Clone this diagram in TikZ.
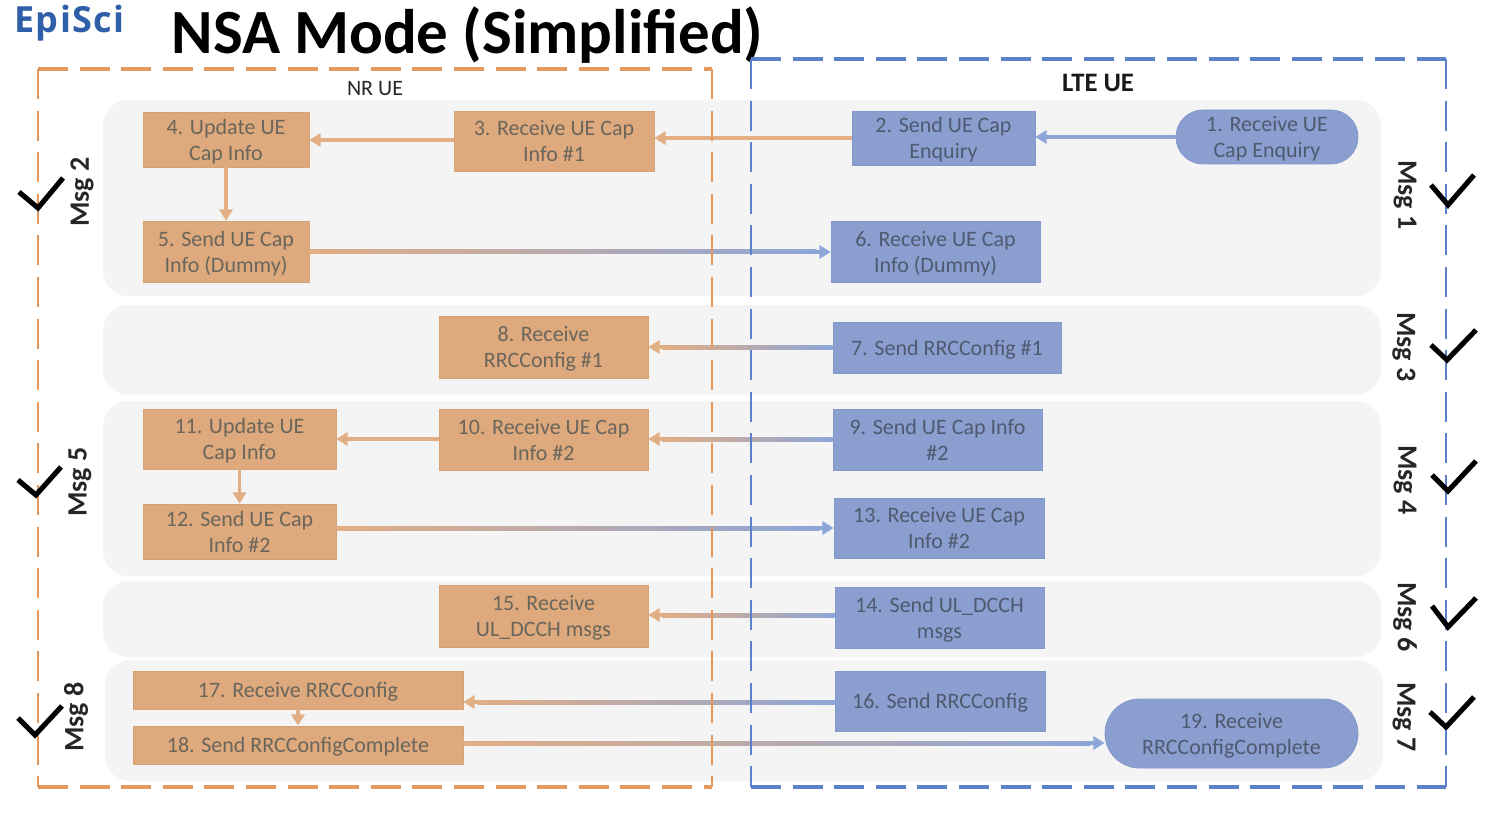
\documentclass[tikz,border=0pt]{standalone}
\usepackage{fontspec}
\setmainfont{Carlito}
\newfontfamily\logofont[LetterSpace=4]{Open Sans}
\usetikzlibrary{arrows.meta,calc,shapes.misc}
\definecolor{panelgray}{HTML}{F4F4F4}
\definecolor{boxorange}{HTML}{DEA97C}
\definecolor{edgeorange}{HTML}{D6A274}
\definecolor{boxblue}{HTML}{8A9FCF}
\definecolor{edgeblue}{HTML}{8299CB}
\definecolor{dashorange}{HTML}{E6995C}
\definecolor{dashblue}{HTML}{5B80CC}
\definecolor{arroworange}{HTML}{E2AE84}
\definecolor{arrowblue}{HTML}{8DA6D8}
\definecolor{inkorange}{HTML}{6A665C}
\definecolor{inkblue}{HTML}{4F5A70}
\definecolor{logoblue}{HTML}{2F5FA8}
\tikzset{
  panel/.style={fill=panelgray,draw=none,rounded corners=19pt},
  basebox/.style={draw,line width=0.6pt,inner sep=0pt,align=center,font=\fontsize{16.5}{19.5}\selectfont},
  obox/.style={basebox,fill=boxorange,draw=edgeorange,text=inkorange},
  bbox/.style={basebox,fill=boxblue,draw=edgeblue,text=inkblue},
  pill/.style={bbox,rounded rectangle},
  link/.style={line width=2.3pt,-{Triangle[length=8.5pt,width=10pt]}},
  msg/.style={font=\fontsize{21}{24}\selectfont\bfseries,inner sep=0pt,text=black!85},
  chk/.style={line width=3.8pt,black,line join=miter},
  ohside/.style={dashorange,line width=2.9pt,dash pattern=on 22.5pt off 8.7pt},
  ovside/.style={dashorange,line width=2.2pt,dash pattern=on 22.5pt off 8.7pt},
  bhside/.style={dashblue,line width=2.9pt,dash pattern=on 22.5pt off 8.7pt},
  bvside/.style={dashblue,line width=2.2pt,dash pattern=on 22.5pt off 8.7pt},
}
% name x1 y1 x2 y2 style text
\newcommand{\pbox}[7]{\node[#6,minimum width={(#4-#2)*0.75pt},minimum height={(#5-#3)*0.75pt}] (#1) at ({(#2+#4)/2},{(#3+#5)/2}) {\raisebox{-2pt}[\height][\depth]{\begin{tabular}{@{}c@{}}#7\end{tabular}}};}
\newcommand{\gradR}[3]{% left-to-right, from orange to blue
  \draw[link,arrowblue] (#1.east |- 0,#3) -- (#2.west |- 0,#3);
  \shade[left color=arroworange,right color=arrowblue] ($(#1.east |- 0,#3)+(0,-2)$) rectangle ($(#2.west |- 0,#3)+(-14,2)$);
}
\newcommand{\gradL}[3]{% right-to-left, from blue to orange
  \draw[link,arroworange] (#1.west |- 0,#3) -- (#2.east |- 0,#3);
  \shade[left color=arroworange,right color=arrowblue] ($(#2.east |- 0,#3)+(14,-2)$) rectangle ($(#1.west |- 0,#3)+(0,2)$);
}
\begin{document}
\renewcommand{\arraystretch}{1}
\setlength{\tabcolsep}{0pt}
\begin{tikzpicture}[x=0.75pt,y=-0.75pt]
\useasboundingbox (0,0) rectangle (1490,820);
\fill[white] (0,0) rectangle (1490,820);
% panels
\fill[panel] (103,100) rectangle (1381,296);
\fill[panel] (103,305) rectangle (1381,395);
\fill[panel] (103,401) rectangle (1381,576);
\fill[panel] (103,581) rectangle (1381,657);
\fill[panel] (105,660) rectangle (1383,781);
% titles
\node[inner sep=0pt,anchor=base west,font=\logofont\bfseries\fontsize{27}{30}\selectfont,text=logoblue] (logo) at (14,33) {EpiSci};
\node[inner sep=0pt,font=\fontsize{47.2}{50}\selectfont\bfseries,text=black] (title) at (467.5,35) {NSA Mode (Simplified)};
\node[inner sep=0pt,font=\fontsize{16.5}{18}\selectfont,text=black!85] (nrue) at (375,89) {NR UE};
\node[inner sep=0pt,font=\fontsize{20}{22}\selectfont\bfseries,text=black!90] (lteue) at (1098,83) {LTE UE};
% boxes
\pbox{n1}{1176}{110}{1358}{164}{pill}{1. Receive UE\\Cap Enquiry}
\pbox{n2}{852}{111}{1035}{165}{bbox}{2. Send UE Cap\\Enquiry}
\pbox{n3}{454}{111}{654}{171}{obox}{3. Receive UE Cap\\Info \#1}
\pbox{n4}{143}{112}{309}{167}{obox}{4. Update UE\\Cap Info}
\pbox{n5}{143}{221}{309}{282}{obox}{5. Send UE Cap\\Info (Dummy)}
\pbox{n6}{831}{221}{1040}{282}{bbox}{6. Receive UE Cap\\Info (Dummy)}
\pbox{n7}{833}{322}{1061}{373}{bbox}{7. Send RRCConfig \#1}
\pbox{n8}{439}{316}{648}{378}{obox}{8. Receive\\RRCConfig \#1}
\pbox{n9}{833}{409}{1042}{470}{bbox}{9. Send UE Cap Info\\\#2}
\pbox{n10}{439}{409}{648}{470}{obox}{10. Receive UE Cap\\Info \#2}
\pbox{n11}{143}{409}{336}{469}{obox}{11. Update UE\\Cap Info}
\pbox{n12}{143}{504}{336}{559}{obox}{12. Send UE Cap\\Info \#2}
\pbox{n13}{834}{498}{1044}{558}{bbox}{13. Receive UE Cap\\Info \#2}
\pbox{n14}{835}{587}{1044}{648}{bbox}{14. Send UL\_DCCH\\msgs}
\pbox{n15}{439}{585}{648}{647}{obox}{15. Receive\\UL\_DCCH msgs}
\pbox{n16}{835}{671}{1045}{731}{bbox}{16. Send RRCConfig}
\pbox{n17}{133}{671}{463}{709}{obox}{17. Receive RRCConfig}
\pbox{n18}{133}{726}{463}{764}{obox}{18. Send RRCConfigComplete}
\pbox{n19}{1105}{699}{1358}{768}{pill}{19. Receive\\RRCConfigComplete}
% connectors
\draw[link,arrowblue] (n1.west |- 0,137) -- (n2.east |- 0,137);
\draw[link,arroworange] (n2.west |- 0,138) -- (n3.east |- 0,138);
\draw[link,arroworange] (n3.west |- 0,140) -- (n4.east |- 0,140);
\draw[link,arroworange] (n4.south) -- (n5.north);
\gradR{n5}{n6}{252}
\gradL{n7}{n8}{347}
\gradL{n9}{n10}{439}
\draw[link,arroworange] (n10.west |- 0,439) -- (n11.east |- 0,439);
\draw[link,arroworange] (n11.south) -- (n12.north);
\gradR{n12}{n13}{528}
\gradL{n14}{n15}{615}
\gradL{n16}{n17}{702}
\draw[link,arroworange] (n17.south) -- (n18.north);
\gradR{n18}{n19}{743}
% dashed frames
\coordinate (oa) at (38,69); \coordinate (ob) at (712,69);
\coordinate (oc) at (712,787); \coordinate (od) at (38,787);
\coordinate (ba) at (751,59); \coordinate (bb) at (1446,59);
\coordinate (bc) at (1446,787); \coordinate (bd) at (751,787);
\draw[ohside] (oa) -- (ob);
\draw[ovside] (oa) -- (od);
\draw[ovside] (ob) -- (oc);
\draw[ohside] (od) -- (oc);
\draw[bhside] (ba) -- (bb);
\draw[bvside] (ba) -- (bd);
\draw[bvside] (bb) -- (bc);
\draw[bhside] (bd) -- (bc);
% Msg labels
\node[msg,rotate=90] (m2) at (82,192) {Msg 2};
\node[msg,rotate=90] (m5) at (80,482) {Msg 5};
\node[msg,rotate=90] (m8) at (76,717) {Msg 8};
\node[msg,rotate=-90] (m1) at (1405,195) {Msg 1};
\node[msg,rotate=-90] (m3) at (1404,347) {Msg 3};
\node[msg,rotate=-90] (m4) at (1405,480) {Msg 4};
\node[msg,rotate=-90] (m6) at (1405,617) {Msg 6};
\node[msg,rotate=-90] (m7) at (1404,717) {Msg 7};
% check marks
\draw[chk] (19,192) -- (38,208) -- (63,178);
\draw[chk] (18,480) -- (36,495) -- (61,467);
\draw[chk] (18,718) -- (35,735) -- (62,706);
\draw[chk] (1431,185) -- (1448,205) -- (1474,175);
\draw[chk] (1431,345) -- (1447,360) -- (1476,330);
\draw[chk] (1432,475) -- (1448,491) -- (1476,461);
\draw[chk] (1432,606) -- (1448,627) -- (1476,598);
\draw[chk] (1430,712) -- (1446,727) -- (1474,697);
\end{tikzpicture}
\end{document}
